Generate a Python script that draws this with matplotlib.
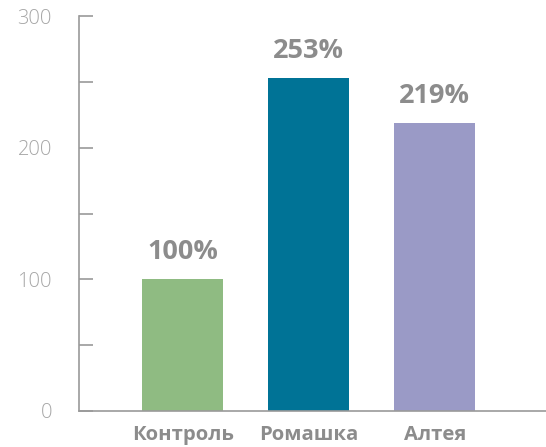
import numpy as np
import matplotlib.pyplot as plt
from matplotlib.ticker import MultipleLocator

# Dados
categorias = ["Контроль", "Ромашка", "Алтея"]
valores = [100, 253, 219]
rotulos = ["100%", "253%", "219%"]
cores = ["#8fbb82", "#007396", "#9a9ac6"]

plt.rcParams['font.family'] = ['Open Sans', 'DejaVu Sans']

fig = plt.figure(figsize=(5.46, 4.47), dpi=100)
ax = fig.add_axes([79 / 546, 1 - 411 / 447, 1 - 79 / 546, (411 - 16) / 447])

x = np.arange(len(categorias))
barras = ax.bar(x, valores, width=0.643, color=cores)

for xi, v, txt in zip(x, valores, rotulos):
    ax.annotate(txt, (xi, v), xytext=(0, 10), textcoords="offset points",
                ha="center", va="bottom", fontsize=19.5, fontweight="bold",
                color="#8c8c8c")

ax.set_xlim(-0.821, 2.881)
ax.set_ylim(0, 300)
ax.set_xticks(x)
ax.set_xticklabels(categorias, fontsize=14.6, fontweight="bold", color="#8c8c8c")
ax.yaxis.set_major_locator(MultipleLocator(100))
ax.yaxis.set_minor_locator(MultipleLocator(50))
ax.tick_params(axis="y", which="both", direction="in", length=10, width=1.2,
               color="#9a9a9a", labelsize=14.5, labelcolor="#a6a6a6", pad=19.5)
ax.tick_params(axis="x", length=0, pad=10)
for lbl in ax.get_yticklabels():
    lbl.set_fontweight("light")

for lado in ["top", "right"]:
    ax.spines[lado].set_visible(False)
for lado in ["left", "bottom"]:
    ax.spines[lado].set_color("#9a9a9a")
    ax.spines[lado].set_linewidth(1.2)

fig.savefig("out.png", dpi=100)
